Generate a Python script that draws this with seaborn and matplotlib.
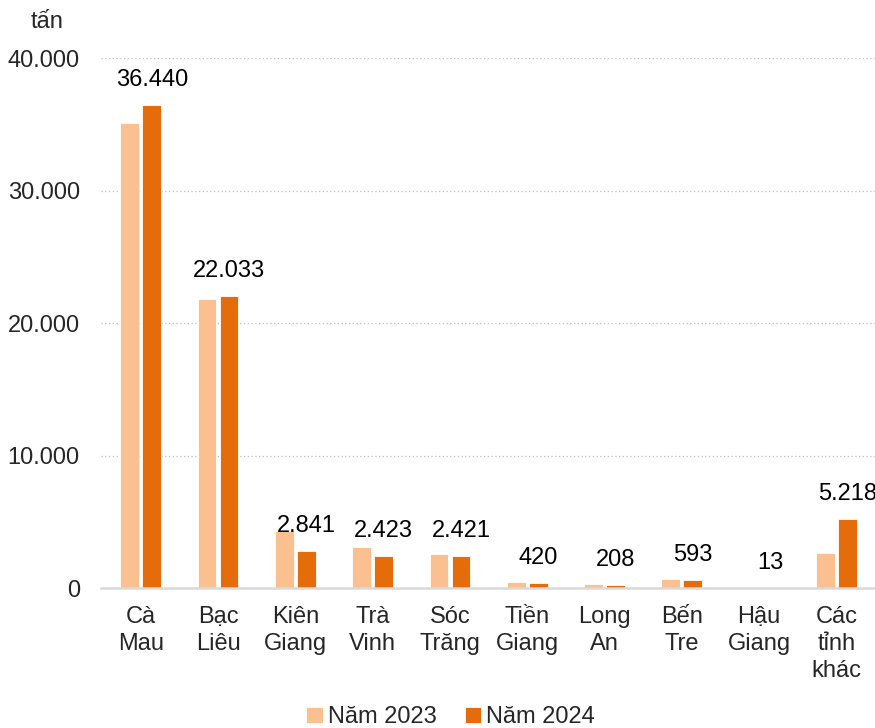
import pandas as pd
import matplotlib.pyplot as plt
import seaborn as sns

provinces = ['Cà\nMau', 'Bạc\nLiêu', 'Kiên\nGiang', 'Trà\nVinh', 'Sóc\nTrăng',
             'Tiền\nGiang', 'Long\nAn', 'Bến\nTre', 'Hậu\nGiang', 'Các\ntỉnh\nkhác']
y2023 = [35120, 21810, 4300, 3080, 2560, 470, 320, 670, 10, 2660]
y2024 = [36440, 22033, 2841, 2423, 2421, 420, 208, 593, 13, 5218]
series = ['Năm 2023', 'Năm 2024']
yticks = [0, 10000, 20000, 30000, 40000]

df = pd.DataFrame({
    'Tỉnh': provinces * 2,
    'Năm': [series[0]] * len(provinces) + [series[1]] * len(provinces),
    'Sản lượng': y2023 + y2024,
})

sns.set_style('white')
plt.rcParams['font.family'] = ['Liberation Sans', 'DejaVu Sans']
fs = 17

fig = plt.figure(figsize=(8.75, 7.28), dpi=100)
ax = fig.add_axes([0.115, 0.192, 0.885, 0.728])

sns.barplot(data=df, x='Tỉnh', y='Sản lượng', hue='Năm',
            palette=['#FAC090', '#E46C0A'], saturation=1, width=0.57, gap=0.15,
            edgecolor='white', linewidth=0.6, ax=ax)

# value labels over the 2024 bars
for bar, v in zip(ax.containers[1], y2024):
    ax.annotate(f'{v:,}'.replace(',', '.'),
                (bar.get_x() + bar.get_width() / 2, bar.get_height()),
                xytext=(0, 18), textcoords='offset points',
                ha='center', va='center', fontsize=fs, color='black')

ax.set_xlim(-0.52, 9.5)
ax.set_ylim(0, 40000)
ax.set_yticks(yticks)
ax.set_yticklabels([f'{t:,}'.replace(',', '.') for t in yticks])
ax.set_xlabel('')
ax.set_ylabel('')
ax.tick_params(axis='y', length=0, pad=15, labelsize=fs)
ax.tick_params(axis='x', length=0, pad=13, labelsize=fs)
for lab in ax.get_xticklabels():
    lab.set_linespacing(1.3)

ax.yaxis.grid(True, color='#BFBFBF', linestyle=(0, (1, 2)), linewidth=0.9)
ax.set_axisbelow(True)
for s in ['top', 'right', 'left']:
    ax.spines[s].set_visible(False)
ax.spines['bottom'].set_color('#D9D9D9')
ax.spines['bottom'].set_linewidth(1.8)

fig.text(0.054, 0.97, 'tấn', fontsize=fs, ha='center', va='center')

ax.get_legend().remove()
handles, labels = ax.get_legend_handles_labels()
fig.legend(handles, labels, loc='center', bbox_to_anchor=(0.515, 0.015),
           ncol=2, frameon=False, fontsize=fs, handlelength=0.7,
           handleheight=0.7, handletextpad=0.2, columnspacing=1.2)

fig.savefig('out.png', dpi=100)
